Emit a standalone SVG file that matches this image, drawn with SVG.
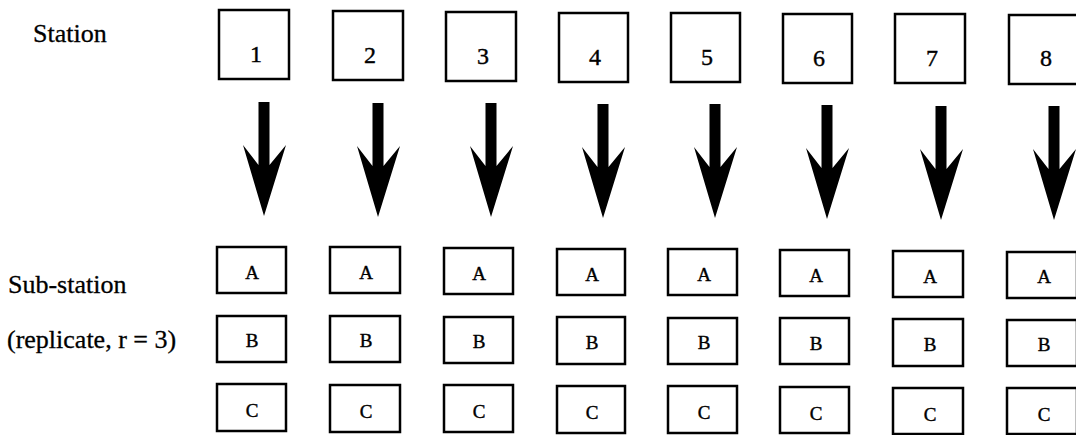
<svg xmlns="http://www.w3.org/2000/svg" xmlns:xlink="http://www.w3.org/1999/xlink" width="1076" height="435" viewBox="0 0 1076 435">
<style>
.box{fill:#fff;stroke:#000;stroke-width:2.5}
.lbl{font-family:"Liberation Serif","Times New Roman",serif;font-size:26px;fill:#000;stroke:#000;stroke-width:0.3}
.num{font-family:"Liberation Serif","Times New Roman",serif;font-size:24px;fill:#000;stroke:#000;stroke-width:0.4;text-anchor:middle}
.let{font-family:"Liberation Serif","Times New Roman",serif;font-size:19px;fill:#000;stroke:#000;stroke-width:0.4;text-anchor:middle}
.arr{fill:#000}
</style>
<defs>
<path id="arrow" class="arr" d="M-5.5,0 H5.5 V63 L22,43 L0,114 L-21,43 L-5.5,63 Z"/>
</defs>
<rect width="1076" height="435" fill="#fff"/>
<g id="labels">
<text class="lbl" x="33" y="42">Station</text>
<text class="lbl" x="8" y="293">Sub-station</text>
<text class="lbl" x="7" y="348">(replicate, r = 3)</text>
</g>
<g id="station-1"><rect class="box" x="219" y="10" width="70" height="69"/><text class="num" x="256" y="62">1</text></g>
<g id="station-2"><rect class="box" x="333" y="11" width="70" height="69"/><text class="num" x="370" y="63">2</text></g>
<g id="station-3"><rect class="box" x="446" y="12" width="70" height="69"/><text class="num" x="483" y="64">3</text></g>
<g id="station-4"><rect class="box" x="559" y="13" width="69" height="69"/><text class="num" x="595" y="65">4</text></g>
<g id="station-5"><rect class="box" x="671" y="13" width="69" height="69"/><text class="num" x="707" y="65">5</text></g>
<g id="station-6"><rect class="box" x="783" y="14" width="69" height="69"/><text class="num" x="819" y="66">6</text></g>
<g id="station-7"><rect class="box" x="895" y="14" width="70" height="69"/><text class="num" x="932" y="66">7</text></g>
<g id="station-8"><rect class="box" x="1009" y="15" width="70" height="69"/><text class="num" x="1046" y="66">8</text></g>
<g id="connectors">
<use xlink:href="#arrow" href="#arrow" x="264" y="102"/>
<use xlink:href="#arrow" href="#arrow" x="378" y="103"/>
<use xlink:href="#arrow" href="#arrow" x="491" y="103"/>
<use xlink:href="#arrow" href="#arrow" x="603" y="104"/>
<use xlink:href="#arrow" href="#arrow" x="715" y="104"/>
<use xlink:href="#arrow" href="#arrow" x="827" y="105"/>
<use xlink:href="#arrow" href="#arrow" x="941" y="106"/>
<use xlink:href="#arrow" href="#arrow" x="1054" y="106"/>
</g>
<g id="sub-1A"><rect class="box" x="217" y="247" width="69" height="46"/><text class="let" x="252" y="279">A</text></g>
<g id="sub-1B"><rect class="box" x="217" y="316" width="69" height="46"/><text class="let" x="252" y="347">B</text></g>
<g id="sub-1C"><rect class="box" x="217" y="384" width="69" height="47"/><text class="let" x="252" y="417">C</text></g>
<g id="sub-2A"><rect class="box" x="330" y="247" width="70" height="46"/><text class="let" x="366" y="279">A</text></g>
<g id="sub-2B"><rect class="box" x="330" y="316" width="70" height="46"/><text class="let" x="366" y="347">B</text></g>
<g id="sub-2C"><rect class="box" x="330" y="385" width="70" height="47"/><text class="let" x="366" y="418">C</text></g>
<g id="sub-3A"><rect class="box" x="444" y="248" width="69" height="46"/><text class="let" x="479" y="280">A</text></g>
<g id="sub-3B"><rect class="box" x="444" y="317" width="69" height="46"/><text class="let" x="479" y="348">B</text></g>
<g id="sub-3C"><rect class="box" x="444" y="385" width="69" height="47"/><text class="let" x="479" y="418">C</text></g>
<g id="sub-4A"><rect class="box" x="557" y="249" width="68" height="46"/><text class="let" x="592" y="281">A</text></g>
<g id="sub-4B"><rect class="box" x="557" y="317" width="68" height="47"/><text class="let" x="592" y="349">B</text></g>
<g id="sub-4C"><rect class="box" x="557" y="386" width="68" height="47"/><text class="let" x="592" y="419">C</text></g>
<g id="sub-5A"><rect class="box" x="668" y="249" width="69" height="46"/><text class="let" x="704" y="281">A</text></g>
<g id="sub-5B"><rect class="box" x="668" y="318" width="69" height="46"/><text class="let" x="704" y="349">B</text></g>
<g id="sub-5C"><rect class="box" x="668" y="386" width="69" height="47"/><text class="let" x="704" y="419">C</text></g>
<g id="sub-6A"><rect class="box" x="780" y="250" width="69" height="46"/><text class="let" x="816" y="282">A</text></g>
<g id="sub-6B"><rect class="box" x="780" y="318" width="69" height="46"/><text class="let" x="816" y="350">B</text></g>
<g id="sub-6C"><rect class="box" x="780" y="387" width="69" height="46"/><text class="let" x="816" y="420">C</text></g>
<g id="sub-7A"><rect class="box" x="893" y="251" width="70" height="46"/><text class="let" x="930" y="283">A</text></g>
<g id="sub-7B"><rect class="box" x="893" y="319" width="70" height="47"/><text class="let" x="930" y="351">B</text></g>
<g id="sub-7C"><rect class="box" x="893" y="388" width="70" height="46"/><text class="let" x="930" y="421">C</text></g>
<g id="sub-8A"><rect class="box" x="1007" y="252" width="70" height="46"/><text class="let" x="1044" y="283">A</text></g>
<g id="sub-8B"><rect class="box" x="1007" y="320" width="70" height="46"/><text class="let" x="1044" y="351">B</text></g>
<g id="sub-8C"><rect class="box" x="1007" y="388" width="70" height="46"/><text class="let" x="1044" y="421">C</text></g>
</svg>
